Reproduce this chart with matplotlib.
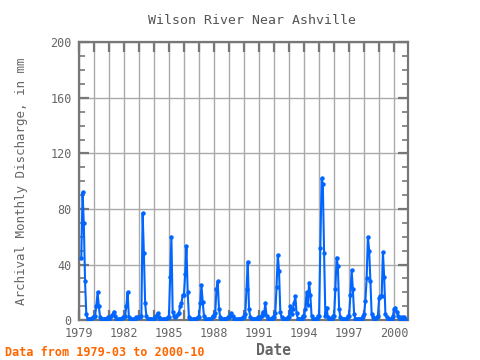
import numpy as np
import matplotlib
matplotlib.use("Agg")
import matplotlib.pyplot as plt
from matplotlib.ticker import MultipleLocator, FixedLocator

# monthly discharge (mm), 1979-03 .. 2000-10
first_year = 1979
first_month = 3
valeurs = [
    # 1979 (Mar-Dec)
    45, 92, 70, 28, 4, 1, 0.5, 0.5, 1, 2,
    # 1980
    2, 3, 10, 20, 10, 2, 1, 0.5, 0.5, 1, 1, 2,
    # 1981
    1, 2, 3, 4, 6, 3, 1, 0.5, 0.5, 1, 1, 2,
    # 1982
    2, 3, 10, 20, 2, 1, 1, 0.5, 0.5, 1, 2, 2,
    # 1983
    2, 2, 3, 77, 48, 12, 3, 1, 0.5, 0.5, 1, 1,
    # 1984
    1, 2, 3, 5, 2, 1, 1, 0.5, 0.5, 1, 1, 2,
    # 1985
    2, 31, 60, 6, 3, 2, 3, 4, 5, 10, 12, 18,
    # 1986
    18, 33, 53, 20, 2, 1, 1, 0.5, 0.5, 1, 1, 2,
    # 1987
    2, 12, 25, 13, 3, 1, 1, 0.5, 0.5, 1, 1, 3,
    # 1988
    3, 5, 22, 28, 8, 2, 1, 0.5, 0.5, 1, 1, 2,
    # 1989
    2, 3, 5, 3, 1, 1, 0.5, 0.5, 0.5, 1, 1, 2,
    # 1990
    2, 4, 22, 42, 8, 2, 1, 0.5, 0.5, 1, 1, 2,
    # 1991
    1, 2, 3, 6, 4, 12, 3, 1, 0.5, 0.5, 1, 2,
    # 1992
    2, 5, 24, 47, 35, 6, 2, 1, 0.5, 1, 1, 2,
    # 1993
    2, 10, 4, 8, 12, 17, 5, 1, 0.5, 0.5, 1, 3,
    # 1994
    3, 8, 20, 11, 27, 18, 3, 1, 0.5, 0.5, 1, 3,
    # 1995
    3, 52, 102, 98, 48, 3, 9, 2, 1, 1, 1, 3,
    # 1996
    3, 22, 45, 39, 8, 2, 1, 0.5, 0.5, 1, 1, 3,
    # 1997
    3, 18, 36, 22, 4, 1, 1, 0.5, 0.5, 1, 1, 3,
    # 1998
    4, 14, 30, 60, 50, 28, 4, 2, 1, 1, 2, 3,
    # 1999
    16, 17, 17, 49, 31, 4, 2, 1, 0.5, 1, 1, 3,
    # 2000 (Jan-Oct)
    8, 9, 6, 3, 2, 1, 2, 1, 2, 1,
]

dates = first_year + (first_month - 1 + np.arange(len(valeurs))) / 12.0
annees_labels = [1979, 1982, 1985, 1988, 1991, 1994, 1997, 2000]

gris = "#777777"
texte = "#666666"
bleu = "#0066ff"

plt.rcParams["font.family"] = ["DejaVu Sans Mono"]

fig = plt.figure(figsize=(4.8, 3.6), dpi=100)
ax = fig.add_axes([78.5 / 480, 1 - 320 / 360, (408 - 78.5) / 480, (320 - 42.5) / 360])

ax.plot(dates, valeurs, color=bleu, lw=1.5, marker="o", ms=2.2, zorder=3)

ax.set_xlim(1978.98, 2000.92)
ax.set_ylim(0, 200)

# yearly grid, labels every 3 years
ax.xaxis.set_major_locator(FixedLocator(annees_labels))
ax.xaxis.set_minor_locator(MultipleLocator(1))
ax.yaxis.set_major_locator(MultipleLocator(40))
ax.yaxis.set_minor_locator(MultipleLocator(10))
ax.grid(True, which="major", axis="y", color="#aaaaaa", lw=1)
ax.grid(True, which="both", axis="x", color="#aaaaaa", lw=1)
ax.set_axisbelow(True)

ax.tick_params(which="both", direction="in", top=True, right=True,
               color=gris, labelcolor=texte, labelsize=8.5)
ax.tick_params(which="major", length=7, width=1.6)
ax.tick_params(axis="x", which="minor", length=7, width=1.6)
ax.tick_params(axis="y", which="minor", length=4, width=1.2)
ax.tick_params(axis="y", pad=5)
ax.tick_params(axis="x", pad=5)

for s in ax.spines.values():
    s.set_color(gris)
    s.set_linewidth(1.6)

ax.set_title("Wilson River Near Ashville", color="#555555", fontsize=9.5, pad=13, x=0.527)
ax.set_ylabel("Archival Monthly Discharge, in mm", color=texte, fontsize=9, labelpad=16)
ax.set_xlabel("Date", color=texte, fontsize=10.5, fontweight="bold", labelpad=2, x=0.593)

fig.text(5 / 480, 1 - 356 / 360, "Data from 1979-03 to 2000-10", color="#ff6600",
         fontsize=8.5, fontweight="bold", va="baseline", ha="left")

fig.savefig("out.png", dpi=100)
